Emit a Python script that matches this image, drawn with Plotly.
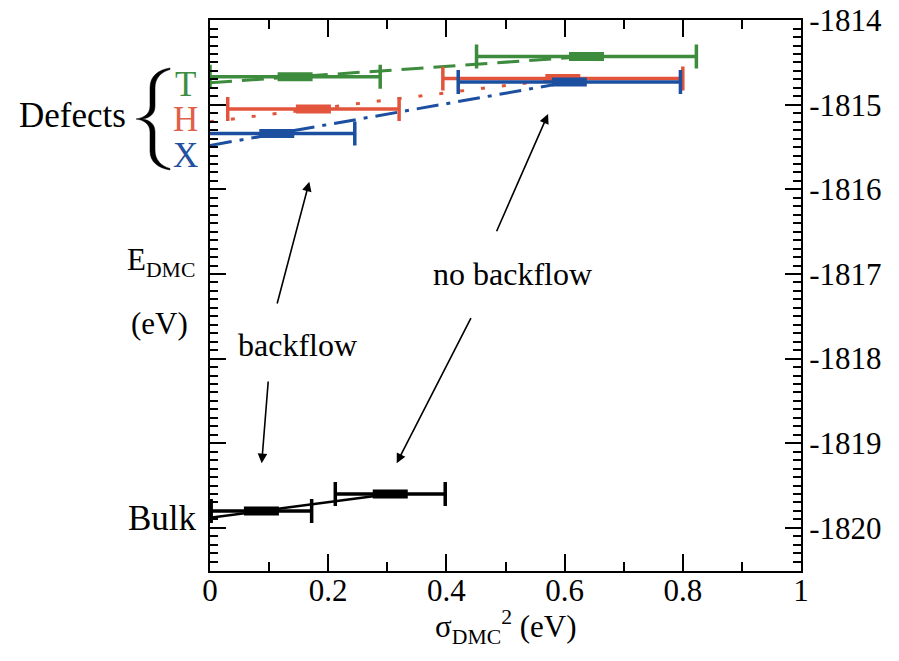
import plotly.graph_objects as go

# DMC energies vs variance, defects (T, H, X) and bulk, with and without backflow
defects = ["T", "H", "X"]
defect_colors = ["#3d8b3d", "#e2553c", "#1c4f9f"]
label_colors = ["#3e8e41", "#e0604a", "#2450a0"]

bf_var = [0.144, 0.175, 0.113]
bf_var_err = [0.144, 0.145, 0.132]
bf_energy = [-1814.67, -1815.05, -1815.34]

nobf_var = [0.637, 0.597, 0.608]
nobf_var_err = [0.186, 0.203, 0.188]
nobf_energy = [-1814.43, -1814.69, -1814.73]

# extrapolated energy at zero variance for each linear fit
fit_intercept = [-1814.74, -1815.20, -1815.48]
fit_dash = ["22px,10px", "4px,17px", "22px,8px,4px,8px"]

bulk_var = [0.087, 0.305]
bulk_var_err = [0.085, 0.093]
bulk_energy = [-1819.80, -1819.60]
bulk_intercept = -1819.88

y_tickvals = [-1814, -1815, -1816, -1817, -1818, -1819, -1820]
y_ticktext = ["-1814", "-1815", "-1816", "-1817", "-1818", "-1819", "-1820"]
x_tickvals = [0, 0.2, 0.4, 0.6, 0.8, 1]
x_ticktext = ["0", "0.2", "0.4", "0.6", "0.8", "1"]

SERIF = "Liberation Serif, Times New Roman, serif"

# plot-area geometry in pixels
W, H = 899, 661
PL, PR, PT, PB = 210, 801, 20, 571


def px_x(px):
    return (px - PL) / (PR - PL)


def px_y(py):
    return (PB - py) / (PB - PT)


fig = go.Figure()

# linear fits to zero variance
for i in range(3):
    fig.add_trace(go.Scatter(
        x=[0, nobf_var[i]], y=[fit_intercept[i], nobf_energy[i]],
        mode="lines", line=dict(color=defect_colors[i], width=3, dash=fit_dash[i]),
        showlegend=False, hoverinfo="skip"))
fig.add_trace(go.Scatter(
    x=[0, bulk_var[1]], y=[bulk_intercept, bulk_energy[1]],
    mode="lines", line=dict(color="black", width=2.5),
    showlegend=False, hoverinfo="skip"))

# points with horizontal error bars
for i in range(3):
    fig.add_trace(go.Scatter(
        x=[bf_var[i], nobf_var[i]], y=[bf_energy[i], nobf_energy[i]],
        mode="markers",
        marker=dict(symbol="line-ew", size=25, color=defect_colors[i],
                    line=dict(color=defect_colors[i], width=9)),
        error_x=dict(type="data", array=[bf_var_err[i], nobf_var_err[i]],
                     color=defect_colors[i], thickness=3.5, width=12),
        showlegend=False))
fig.add_trace(go.Scatter(
    x=bulk_var, y=bulk_energy, mode="markers",
    marker=dict(symbol="line-ew", size=25, color="black",
                line=dict(color="black", width=9)),
    error_x=dict(type="data", array=bulk_var_err, color="black",
                 thickness=3.5, width=12),
    showlegend=False))

ann = []


def text(s, px, py, size, color="black", xanchor="center"):
    ann.append(dict(text=s, x=px_x(px), y=px_y(py), xref="paper", yref="paper",
                    xanchor=xanchor, yanchor="middle", showarrow=False,
                    font=dict(family=SERIF, size=size, color=color)))


text("Defects", 17, 115, 35, xanchor="left")
for name, col, py in zip(defects, label_colors, [84, 120, 156]):
    text(name, 185, py, 35, color=col)
text("Bulk", 162, 518, 35)
text("E<sub>DMC</sub>", 125, 262, 31, xanchor="left")
text("(eV)", 159, 323, 31)
text("backflow", 297, 345, 32)
text("no backflow", 512, 274, 32)
text("σ<sub>DMC</sub><sup>2</sup> (eV)", 506, 627, 31)

# arrows from the labels towards the two groups of points
arrows = [
    ((0.113, -1817.366), (0.168, -1815.91)),
    ((0.0987, -1818.252), (0.0875, -1819.236)),
    ((0.4428, -1817.504), (0.3159, -1819.236)),
    ((0.4839, -1816.512), (0.572, -1815.11)),
]
for (tx, ty), (hx, hy) in arrows:
    ann.append(dict(x=hx, y=hy, ax=tx, ay=ty, xref="x", yref="y",
                    axref="x", ayref="y", text="", showarrow=True,
                    arrowhead=2, arrowsize=1.2, arrowwidth=1.6,
                    arrowcolor="black"))

# curly brace grouping the defect labels
brace_pts = [
    ("M", [(170, 68)]),
    ("C", [(158, 70), (150, 76), (150, 88)]),
    ("L", [(150, 106)]),
    ("C", [(150, 114), (144, 118), (136, 119)]),
    ("C", [(144, 120), (150, 124), (150, 132)]),
    ("L", [(150, 151)]),
    ("C", [(150, 162), (158, 168), (170, 170)]),
    ("L", [(170, 168.5)]),
    ("C", [(161, 166), (155, 160), (155, 150)]),
    ("L", [(155, 132)]),
    ("C", [(155, 124), (150, 120), (142, 119)]),
    ("C", [(150, 118), (155, 114), (155, 106)]),
    ("L", [(155, 88)]),
    ("C", [(155, 78), (161, 72), (170, 69.5)]),
]
path = ""
for cmd, pts in brace_pts:
    path += cmd + " " + " ".join(f"{px_x(a):.5f},{px_y(b):.5f}" for a, b in pts) + " "
path += "Z"
shapes = [dict(type="path", path=path, xref="paper", yref="paper",
               fillcolor="black", line=dict(color="black", width=0.5))]

axis_common = dict(
    showgrid=False, zeroline=False, showline=True, linecolor="black",
    linewidth=2, mirror="allticks", ticks="inside", tickcolor="black",
    tickwidth=1.5, tickfont=dict(family=SERIF, size=31, color="black"),
    automargin=False,
)

fig.update_layout(
    width=W, height=H,
    margin=dict(l=PL, r=W - PR, t=PT, b=H - PB),
    paper_bgcolor="white", plot_bgcolor="white",
    showlegend=False,
    xaxis=dict(range=[0, 1], tickmode="array", tickvals=x_tickvals,
               ticktext=x_ticktext, ticklen=17, ticklabelstandoff=-9,
               minor=dict(tickmode="linear", tick0=0, dtick=0.1, ticks="inside",
                          ticklen=9, tickwidth=1.5, tickcolor="black"),
               **axis_common),
    yaxis=dict(range=[-1820.51, -1813.998], side="right", tickmode="array",
               tickvals=y_tickvals, ticktext=y_ticktext, ticklen=16,
               minor=dict(tickmode="linear", tick0=-1820, dtick=0.1, ticks="inside",
                          ticklen=8, tickwidth=1.5, tickcolor="black"),
               **axis_common),
    annotations=ann,
    shapes=shapes,
)

fig.write_html("out.html")
